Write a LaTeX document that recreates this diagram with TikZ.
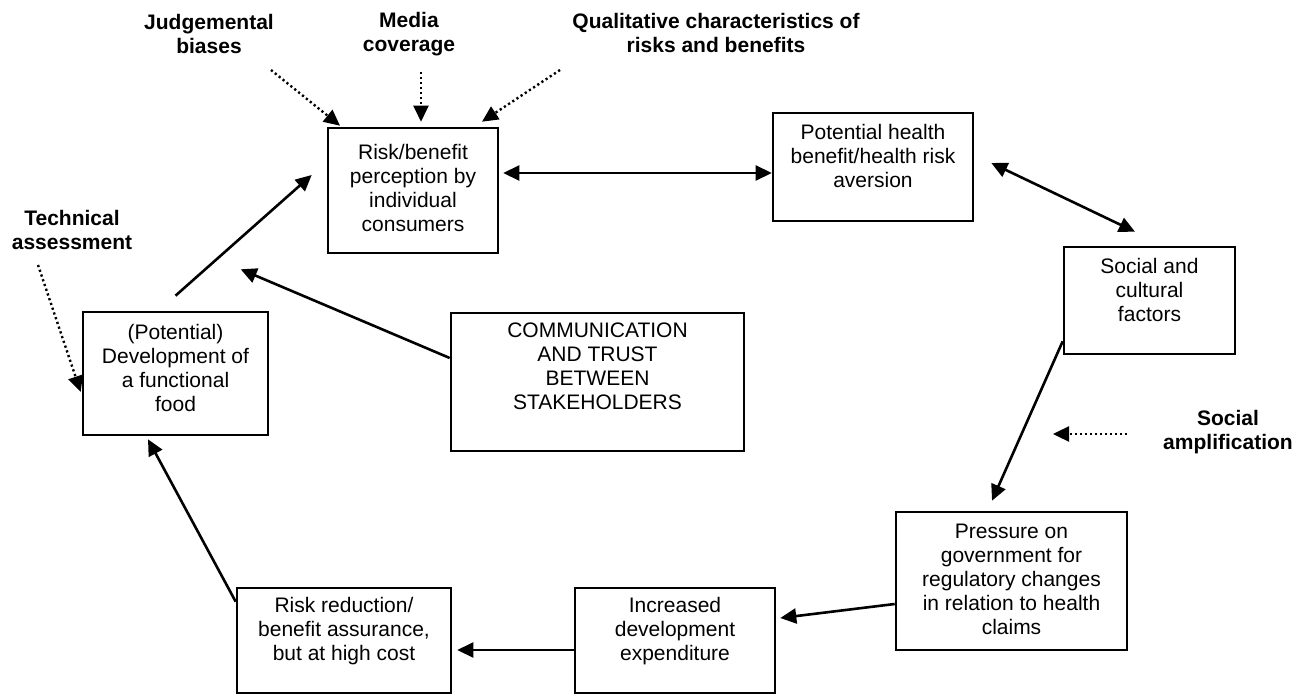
\documentclass[tikz,border=0pt]{standalone}
\usepackage{fontspec}
\setmainfont{Liberation Sans}
\usetikzlibrary{arrows.meta}
\begin{document}
\begin{tikzpicture}[x=0.5pt, y=-0.5pt,
    main/.style = {draw, line width=1.3pt, align=center, inner sep=0pt, font=\fontsize{10.5}{12}\selectfont},
    lbl/.style = {align=center, font=\fontsize{10.5}{12}\selectfont\bfseries},
    arr/.style = {line width=1.3pt, -{Triangle[length=8pt,width=7.5pt]}},
    dbl/.style = {line width=1.3pt, {Triangle[length=8pt,width=7.5pt]}-{Triangle[length=8pt,width=7.5pt]}},
    dots/.style = {line width=1.2pt, dash pattern=on 1.1pt off 1.4pt, -{Triangle[length=8pt,width=7.5pt]}}]
		\useasboundingbox (0,0) rectangle (1303,696);
		% boxes of the cycle
		\node[main, minimum width=85pt, minimum height=62.5pt, text depth=3pt] (rbp) at (413,190.5) {Risk/benefit\\perception by\\individual\\consumers};
		\node[main, minimum width=100pt, minimum height=54pt, text depth=11pt] (ph) at (873,167) {Potential health\\benefit/health risk\\aversion};
		\node[main, minimum width=85.5pt, minimum height=53.5pt, text depth=11pt] (soc) at (1149.5,300.5) {Social and\\cultural\\factors};
		\node[main, minimum width=115.5pt, minimum height=69pt, text depth=2pt] (prs) at (1011.5,581) {Pressure on\\government for\\regulatory changes\\in relation to health\\claims};
		\node[main, minimum width=100pt, minimum height=52.5pt, text depth=11.7pt] (inc) at (675,640.5) {Increased\\development\\expenditure};
		\node[main, minimum width=107pt, minimum height=52.5pt, text depth=11.7pt] (rr) at (344,640.5) {Risk reduction/\\benefit assurance,\\but at high cost};
		\node[main, minimum width=92.5pt, minimum height=61.5pt, text depth=6pt] (dev) at (175.5,373.5) {(Potential)\\Development of\\a functional\\food};
		\node[main, minimum width=146.5pt, minimum height=69pt, text depth=15.5pt] (com) at (597.5,382) {COMMUNICATION\\AND TRUST\\BETWEEN\\STAKEHOLDERS};
		% outside influences
		\node[lbl] (jb) at (209,34) {Judgemental\\biases};
		\node[lbl] (mc) at (409,34) {Media\\coverage};
		\node[lbl] (qc) at (716,33) {Qualitative characteristics of\\risks and benefits};
		\node[lbl] (ta) at (72,230) {Technical\\assessment};
		\node[lbl] (sa) at (1228,432) {Social\\amplification};
		\coordinate (jb1) at (271,70);
		\coordinate (mc1) at (421,72);
		\coordinate (qc1) at (560,70);
		\coordinate (ta1) at (38,265);
		\coordinate (sa1) at (1127,434);
		\coordinate (sa2) at (1053,434);
		\draw[dots] (jb1) -- ([shift={(-73,-1)}]rbp.north);
		\draw[dots] (mc1) -- ([shift={(8,-5)}]rbp.north);
		\draw[dots] (qc1) -- ([shift={(69,-5)}]rbp.north);
		\draw[dots] (ta1) -- ([shift={(-1,18.5)}]dev.west);
		\draw[dots] (sa1) -- (sa2);
		% cycle
		\draw[dbl] ([shift={(4,-17.5)}]rbp.east) -- ([shift={(0,6)}]ph.west);
		\draw[dbl] ([shift={(17,-4)}]ph.east) -- ([shift={(-14.5,-14)}]soc.north);
		\draw[arr] ([shift={(0,-14)}]soc.south west) -- ([shift={(-19.5,-10)}]prs.north);
		\draw[arr] ([shift={(0,23)}]prs.west) -- ([shift={(4,-22.5)}]inc.east);
		\draw[arr] ([shift={(0,9.5)}]inc.west) -- ([shift={(5,9.5)}]rr.east);
		\draw[arr] ([shift={(0,15)}]rr.north west) -- ([shift={(-27.5,3)}]dev.south);
		\draw[arr] ([shift={(0,-15)}]dev.north) -- ([shift={(-15,-15.5)}]rbp.west);
		\draw[arr] ([shift={(0,-24)}]com.west) -- ([shift={(-86,15)}]rbp.south west);
	\end{tikzpicture}
\end{document}
